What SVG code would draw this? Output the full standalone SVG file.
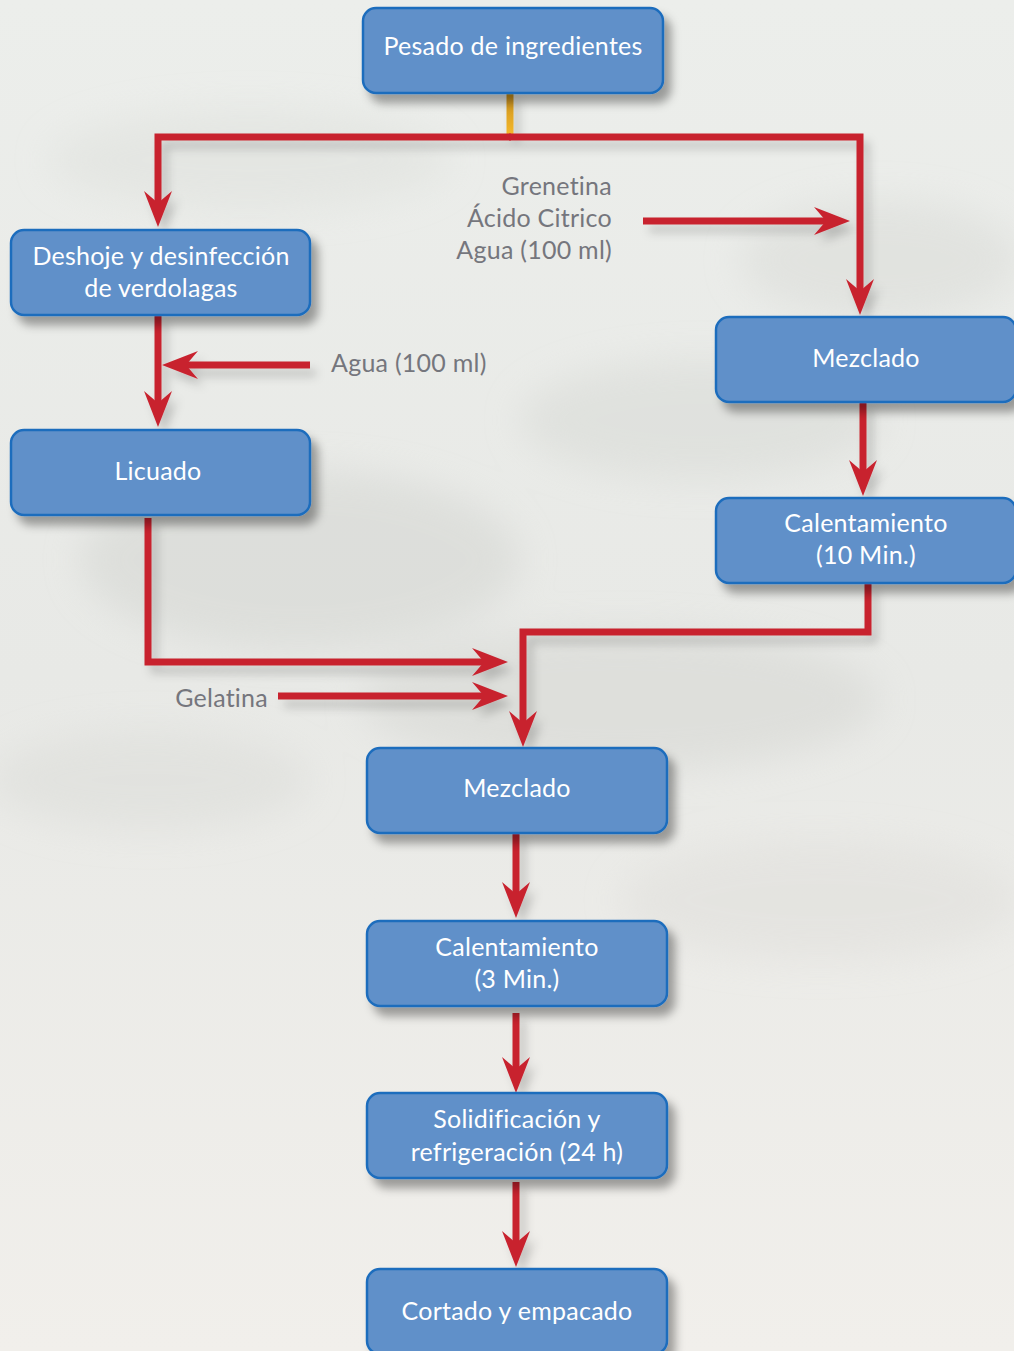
<svg xmlns="http://www.w3.org/2000/svg" width="1014" height="1351" viewBox="0 0 1014 1351">
<defs>
<linearGradient id="bg" x1="0" y1="0" x2="0" y2="1">
<stop offset="0" stop-color="#eceeeb"/>
<stop offset="0.5" stop-color="#e8e9e6"/>
<stop offset="1" stop-color="#f1efeb"/>
</linearGradient>
<filter id="blur" x="-50%" y="-50%" width="200%" height="200%"><feGaussianBlur stdDeviation="18"/></filter>
<filter id="shadow" x="-20%" y="-30%" width="150%" height="180%"><feDropShadow dx="7" dy="9" stdDeviation="5" flood-color="#000" flood-opacity="0.35"/></filter>
<filter id="lshadow" x="-20%" y="-20%" width="150%" height="150%"><feDropShadow dx="6" dy="8" stdDeviation="5" flood-color="#000" flood-opacity="0.18"/></filter>
<linearGradient id="orange" gradientUnits="userSpaceOnUse" x1="0" y1="93" x2="0" y2="134">
<stop offset="0" stop-color="#c9901e"/>
<stop offset="1" stop-color="#f4b72a"/>
</linearGradient>
<marker id="ah" viewBox="0 0 36 28" refX="12" refY="14" markerWidth="36" markerHeight="28" markerUnits="userSpaceOnUse" orient="auto">
<path d="M0,0 L36,14 L0,28 L12,14 Z" fill="#c8232f"/>
</marker>
<style>
text{font-variant-ligatures:none;font-feature-settings:"liga" 0;letter-spacing:0.25px}
.node rect{fill:#6090c9;stroke:#1f6dbd;stroke-width:2.5;filter:url(#shadow)}
.node text{fill:#ffffff;font-family:Lato,"Open Sans",sans-serif;font-size:25px;text-anchor:middle}
.lbl{fill:#75767d;font-family:Lato,"Open Sans",sans-serif;font-size:25px}
.c{fill:none;stroke:#c8232f;stroke-width:7;stroke-linejoin:miter;marker-end:url(#ah)}
</style>
</defs>
<rect width="1014" height="1351" fill="url(#bg)"/>
<g filter="url(#blur)" opacity="0.55">
<ellipse cx="300" cy="560" rx="220" ry="90" fill="#d4d6d2"/>
<ellipse cx="700" cy="420" rx="180" ry="60" fill="#d8dad6"/>
<ellipse cx="620" cy="700" rx="260" ry="70" fill="#d6d7d3"/>
<ellipse cx="150" cy="780" rx="160" ry="50" fill="#dcddd9"/>
<ellipse cx="820" cy="900" rx="200" ry="60" fill="#e0dfdb"/>
<ellipse cx="250" cy="160" rx="200" ry="50" fill="#dfe1dd"/>
<ellipse cx="880" cy="260" rx="140" ry="60" fill="#dadcd8"/>
</g>
<g id="connectors" filter="url(#lshadow)">
<rect x="506.5" y="93" width="7" height="41" fill="url(#orange)"/>
<path class="c" d="M511,137 H158 V203"/>
<path class="c" d="M509,137 H860 V291"/>
<path class="c" d="M643,221 H826"/>
<path class="c" d="M158,315 V403"/>
<path class="c" d="M310,365 H186"/>
<path class="c" d="M863,402 V472"/>
<path class="c" d="M148,518 V662 H484"/>
<path class="c" d="M278,696 H484"/>
<path class="c" d="M868,583 V632 H523 V723"/>
<path class="c" d="M516,833 V894"/>
<path class="c" d="M516,1013 V1069"/>
<path class="c" d="M516,1182 V1243"/>
</g>
<g id="labels">
<text class="lbl" x="612" y="195" text-anchor="end">Grenetina</text>
<text class="lbl" x="612" y="227" text-anchor="end">Ácido Citrico</text>
<text class="lbl" x="612" y="259" text-anchor="end">Agua (100 ml)</text>
<text class="lbl" x="331" y="372">Agua (100 ml)</text>
<text class="lbl" x="268" y="707" text-anchor="end">Gelatina</text>
</g>
<g id="n-pesado" class="node"><rect x="363" y="8" width="300" height="85" rx="13"/><text x="513" y="55">Pesado de ingredientes</text></g>
<g id="n-deshoje" class="node"><rect x="11" y="230" width="299" height="85" rx="13"/><text x="161" y="265">Deshoje y desinfección</text><text x="161" y="297">de verdolagas</text></g>
<g id="n-licuado" class="node"><rect x="11" y="430" width="299" height="85" rx="13"/><text x="158" y="480">Licuado</text></g>
<g id="n-mezclado1" class="node"><rect x="716" y="317" width="300" height="85" rx="13"/><text x="866" y="367">Mezclado</text></g>
<g id="n-calent1" class="node"><rect x="716" y="498" width="300" height="85" rx="13"/><text x="866" y="532">Calentamiento</text><text x="866" y="564">(10 Min.)</text></g>
<g id="n-mezclado2" class="node"><rect x="367" y="748" width="300" height="85" rx="13"/><text x="517" y="797">Mezclado</text></g>
<g id="n-calent2" class="node"><rect x="367" y="921" width="300" height="85" rx="13"/><text x="517" y="956">Calentamiento</text><text x="517" y="988">(3 Min.)</text></g>
<g id="n-solid" class="node"><rect x="367" y="1093" width="300" height="85" rx="13"/><text x="517" y="1128">Solidificación y</text><text x="517" y="1161">refrigeración (24 h)</text></g>
<g id="n-cortado" class="node"><rect x="367" y="1269" width="300" height="85" rx="13"/><text x="517" y="1320">Cortado y empacado</text></g>
</svg>
